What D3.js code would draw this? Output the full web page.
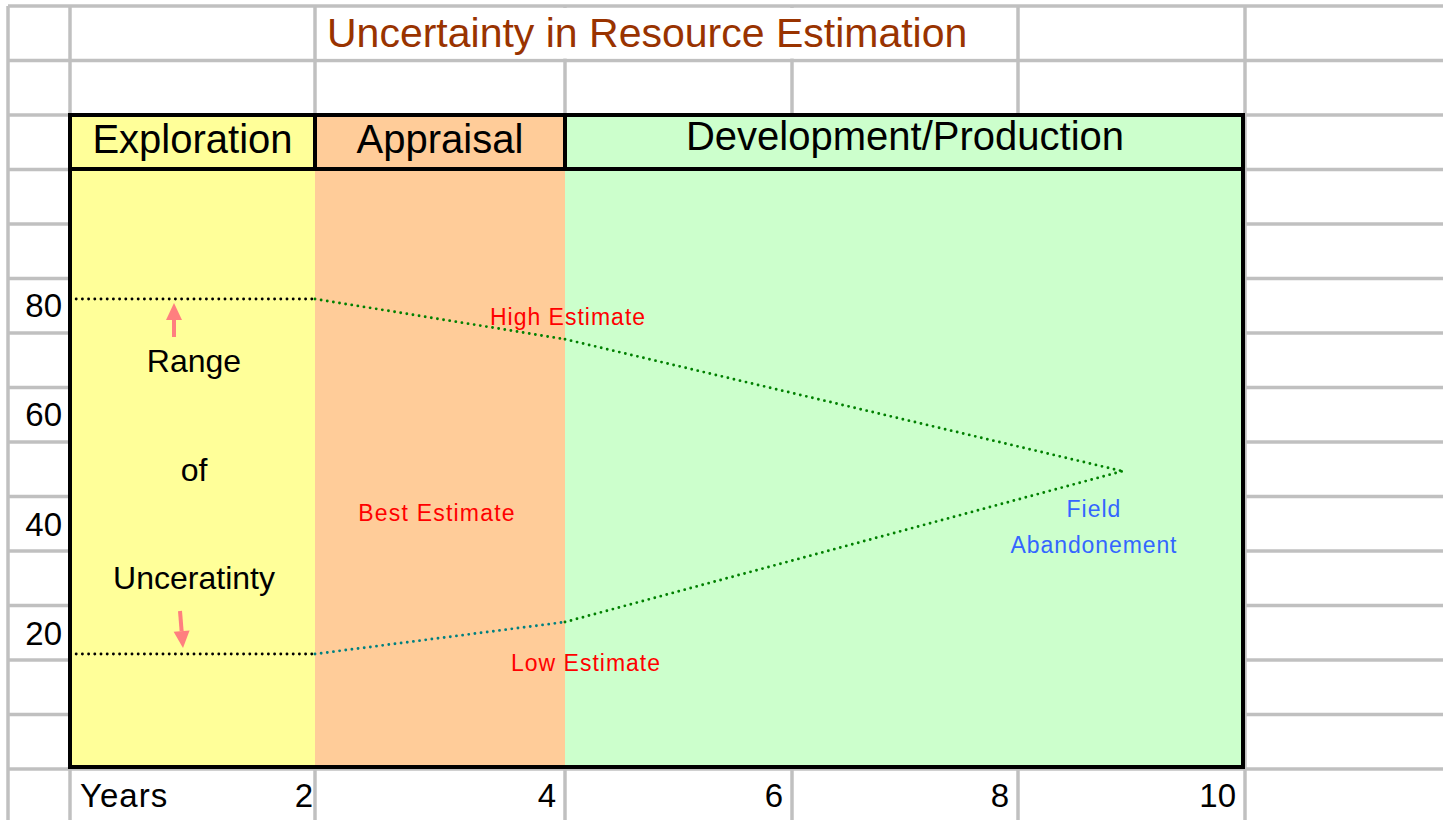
<!DOCTYPE html>
<html>
<head>
<meta charset="utf-8">
<script src="https://cdn.jsdelivr.net/npm/d3@7/dist/d3.min.js"></script>
<style>
  body { margin: 0; background: #fff; }
  text { font-family: "Liberation Sans", Arial, sans-serif; }
</style>
</head>
<body>
<svg id="chart" width="1443" height="820"></svg>
<script>
// ---- data ----
const title = "Uncertainty in Resource Estimation";
const phaseNames = ["Exploration", "Appraisal", "Development/Production"];
const phaseStart = [0, 2, 4];
const phaseEnd = [2, 4, 10];
const years = [0, 2, 4, 8.92];
const highEstimate = [80, 80, 73.2, 50.9];
const lowEstimate = [20, 20, 25.4, 50.9];
const xTicks = [2, 4, 6, 8, 10];
const yTicks = [80, 60, 40, 20];
const xAxisName = "Years";
const rangeWords = ["Range", "of", "Unceratinty"];

// ---- styles ----
const phaseColors = ["#FFFF99", "#FFCC99", "#CCFFCC"];
const highSegColors = ["#000000", "#008000", "#008000"];
const lowSegColors = ["#000000", "#008080", "#008000"];
const gridColor = "#C0C0C0";

const W = 1443, H = 820;
const svg = d3.select("#chart");

// spreadsheet-style scales: columns are not uniform
const x = d3.scaleLinear().domain([0, 2, 4, 6, 8, 10]).range([70, 315, 565, 792, 1018, 1245]);
const y = d3.scaleLinear().domain([20, 80]).range([654, 299]);
const yLabel = d3.scaleLinear().domain([20, 80]).range([645, 317]);

const rowTop = 6, rowH = 54.5, nRows = 14;
const plotTop = rowTop + 2 * rowH;      // 115
const headerBottom = rowTop + 3 * rowH; // ~169.5
const plotBottom = rowTop + nRows * rowH; // 769

// ---- background grid ----
const grid = svg.append("g");
d3.range(nRows + 1).forEach(i => {
  grid.append("line").attr("x1", 8).attr("x2", W)
    .attr("y1", rowTop + i * rowH).attr("y2", rowTop + i * rowH)
    .attr("stroke", gridColor).attr("stroke-width", 3.5);
});
[8].concat(x.range()).forEach(cx => {
  grid.append("line").attr("x1", cx).attr("x2", cx)
    .attr("y1", rowTop).attr("y2", H)
    .attr("stroke", gridColor).attr("stroke-width", 3.5);
});
// merged title cell
grid.append("rect").attr("x", x(2) + 2).attr("y", rowTop + 2)
  .attr("width", x(8) - x(2) - 4).attr("height", rowH - 4).attr("fill", "#fff");

svg.append("text").attr("x", 327).attr("y", 47)
  .attr("font-size", 41).attr("fill", "#993300").text(title);

// ---- phase fills ----
phaseNames.forEach((p, i) => {
  svg.append("rect")
    .attr("x", x(phaseStart[i])).attr("y", plotTop)
    .attr("width", x(phaseEnd[i]) - x(phaseStart[i]))
    .attr("height", plotBottom - plotTop)
    .attr("fill", phaseColors[i]);
});

// ---- lines ----
function drawSegments(vals, colors) {
  for (let i = 0; i < years.length - 1; i++) {
    svg.append("line")
      .attr("x1", x(years[i])).attr("y1", y(vals[i]))
      .attr("x2", x(years[i + 1])).attr("y2", y(vals[i + 1]))
      .attr("stroke", colors[i]).attr("stroke-width", 2.9)
      .attr("stroke-linecap", "round").attr("stroke-dasharray", "0,6.2");
  }
}
drawSegments(highEstimate, highSegColors);
drawSegments(lowEstimate, lowSegColors);

// ---- borders ----
svg.append("rect").attr("x", x(0)).attr("y", plotTop)
  .attr("width", x(10) - x(0) - 2).attr("height", plotBottom - plotTop - 2)
  .attr("fill", "none").attr("stroke", "#000").attr("stroke-width", 4);
svg.append("line").attr("x1", x(0)).attr("x2", x(10) - 2)
  .attr("y1", headerBottom - 0.5).attr("y2", headerBottom - 0.5)
  .attr("stroke", "#000").attr("stroke-width", 4);
[phaseStart[1], phaseStart[2]].forEach(v => {
  svg.append("line").attr("x1", x(v)).attr("x2", x(v))
    .attr("y1", plotTop).attr("y2", headerBottom)
    .attr("stroke", "#000").attr("stroke-width", 4);
});

// ---- header labels ----
const headerBase = [153, 153, 150];
phaseNames.forEach((p, i) => {
  svg.append("text")
    .attr("x", (x(phaseStart[i]) + x(phaseEnd[i])) / 2)
    .attr("y", headerBase[i])
    .attr("text-anchor", "middle").attr("font-size", 40).attr("fill", "#000")
    .text(p);
});

// ---- y tick labels ----
yTicks.forEach(v => {
  svg.append("text").attr("x", 62).attr("y", yLabel(v))
    .attr("text-anchor", "end").attr("font-size", 33).text(v);
});

// ---- x tick labels ----
xTicks.forEach(v => {
  svg.append("text").attr("x", x(v) - (v === 2 ? 2 : 9)).attr("y", 807)
    .attr("text-anchor", "end").attr("font-size", 33).text(v);
});
svg.append("text").attr("x", 80).attr("y", 807)
  .attr("font-size", 33).attr("letter-spacing", 1).text(xAxisName);

// ---- annotations ----
const rangeBase = [372, 481, 589];
rangeWords.forEach((w, i) => {
  svg.append("text").attr("x", 194).attr("y", rangeBase[i])
    .attr("text-anchor", "middle").attr("font-size", 32).text(w);
});

const arrowColor = "#FF7F7F";
function arrow(x1, y1, x2, y2) {
  const ang = Math.atan2(y2 - y1, x2 - x1);
  const hl = 17, hw = 8;
  const bx = x2 - hl * Math.cos(ang), by = y2 - hl * Math.sin(ang);
  svg.append("line").attr("x1", x1).attr("y1", y1).attr("x2", bx).attr("y2", by)
    .attr("stroke", arrowColor).attr("stroke-width", 4);
  const px = -Math.sin(ang) * hw, py = Math.cos(ang) * hw;
  svg.append("path")
    .attr("d", `M${x2},${y2}L${bx + px},${by + py}L${bx - px},${by - py}Z`)
    .attr("fill", arrowColor);
}
arrow(174, 337, 174, 303);
arrow(180, 611, 183, 648);

const red = "#FF0000", blue = "#3366FF";
svg.append("text").attr("x", 568).attr("y", 325).attr("text-anchor", "middle")
  .attr("font-size", 23).attr("fill", red).attr("letter-spacing", 1).text("High Estimate");
svg.append("text").attr("x", 437).attr("y", 521).attr("text-anchor", "middle")
  .attr("font-size", 23).attr("fill", red).attr("letter-spacing", 1.2).text("Best Estimate");
svg.append("text").attr("x", 586).attr("y", 671).attr("text-anchor", "middle")
  .attr("font-size", 23).attr("fill", red).attr("letter-spacing", 1).text("Low Estimate");
svg.append("text").attr("x", 1094).attr("y", 517).attr("text-anchor", "middle")
  .attr("font-size", 23).attr("fill", blue).attr("letter-spacing", 1).text("Field");
svg.append("text").attr("x", 1094).attr("y", 553).attr("text-anchor", "middle")
  .attr("font-size", 23).attr("fill", blue).attr("letter-spacing", 0.9).text("Abandonement");
</script>
</body>
</html>
